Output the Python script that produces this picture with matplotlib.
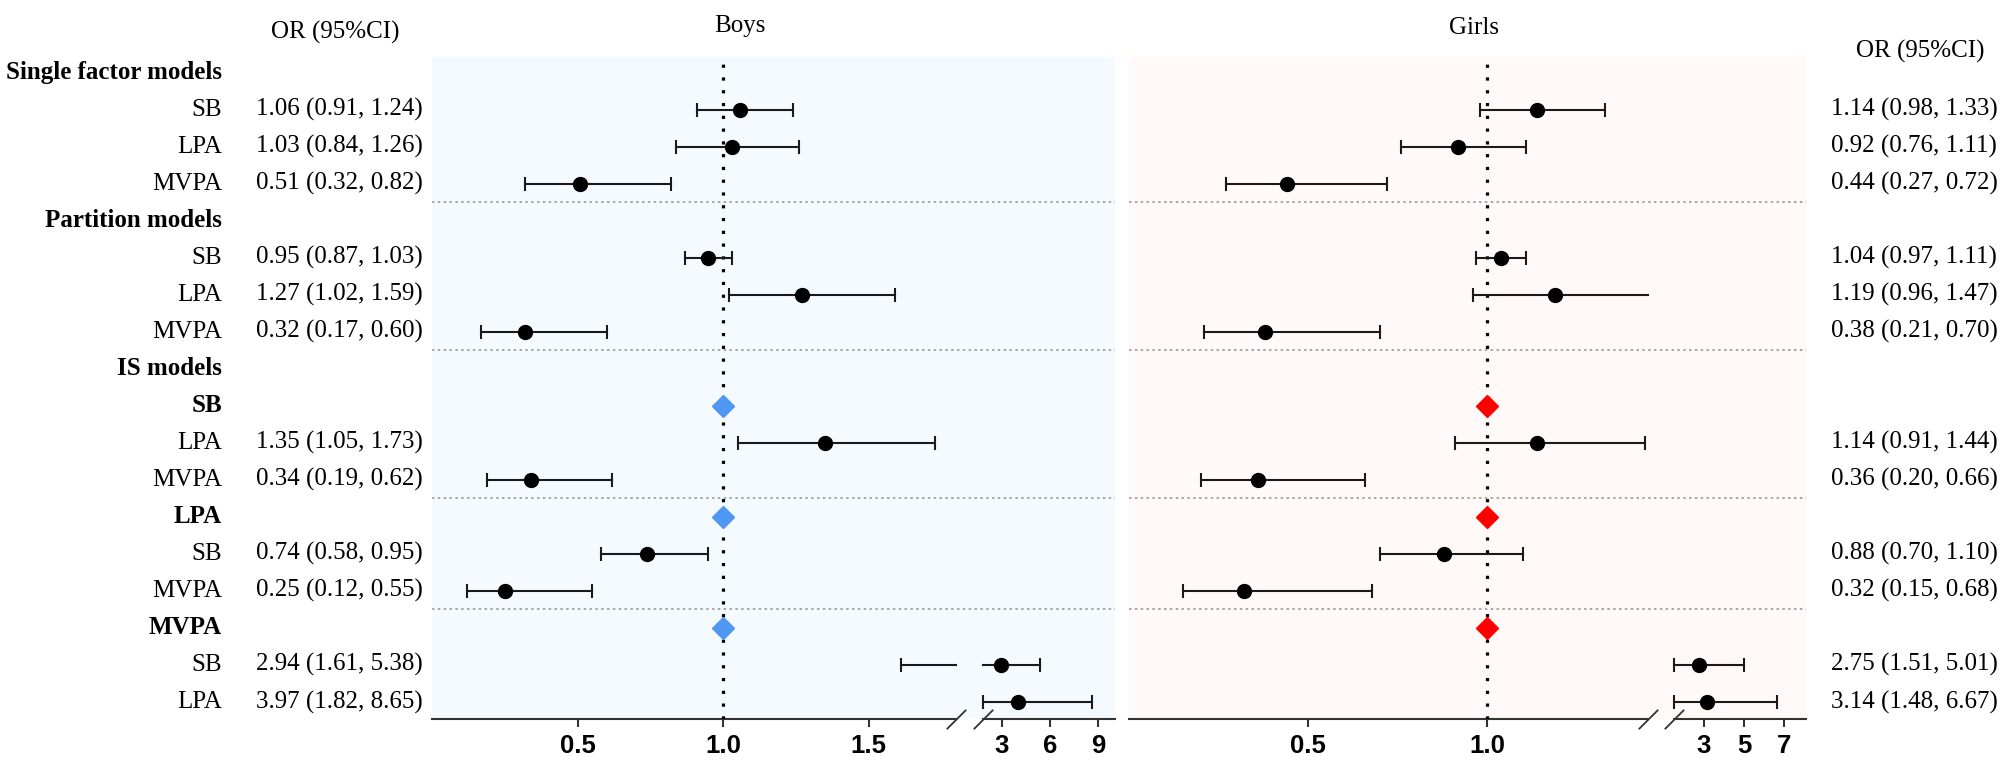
import numpy as np
import matplotlib
matplotlib.use("Agg")
import matplotlib.pyplot as plt
from matplotlib import transforms

W, H = 2007, 760
SERIF = "Liberation Serif"
SANS = "Liberation Sans"
FS = 18

# rows, top to bottom
labels = ["Single factor models", "SB", "LPA", "MVPA",
          "Partition models", "SB", "LPA", "MVPA",
          "IS models", "SB", "LPA", "MVPA",
          "LPA", "SB", "MVPA",
          "MVPA", "SB", "LPA"]
bold_rows = [0, 4, 8, 9, 12, 15]
ref_rows = [9, 12, 15]
est_rows = [1, 2, 3, 5, 6, 7, 10, 11, 13, 14, 16, 17]
sep_rows = [3.5, 7.5, 11.5, 14.5]

boys_or = [1.06, 1.03, 0.51, 0.95, 1.27, 0.32, 1.35, 0.34, 0.74, 0.25, 2.94, 3.97]
boys_lo = [0.91, 0.84, 0.32, 0.87, 1.02, 0.17, 1.05, 0.19, 0.58, 0.12, 1.61, 1.82]
boys_hi = [1.24, 1.26, 0.82, 1.03, 1.59, 0.60, 1.73, 0.62, 0.95, 0.55, 5.38, 8.65]

girls_or = [1.14, 0.92, 0.44, 1.04, 1.19, 0.38, 1.14, 0.36, 0.88, 0.32, 2.75, 3.14]
girls_lo = [0.98, 0.76, 0.27, 0.97, 0.96, 0.21, 0.91, 0.20, 0.70, 0.15, 1.51, 1.48]
girls_hi = [1.33, 1.11, 0.72, 1.11, 1.47, 0.70, 1.44, 0.66, 1.10, 0.68, 5.01, 6.67]

boys_ticks = [0.5, 1.0, 1.5, 3, 6, 9]
boys_ticklabels = ["0.5", "1.0", "1.5", "3", "6", "9"]
girls_ticks = [0.5, 1.0, 3, 5, 7]
girls_ticklabels = ["0.5", "1.0", "3", "5", "7"]


def broken(k_main, lo, hi, u_hi, k_right):
    # piecewise linear axis with a gap between lo and hi
    u_lo = lo * k_main

    def fwd(v):
        v = np.asarray(v, dtype=float)
        gap = u_lo + (v - lo) / (hi - lo) * (u_hi - u_lo)
        return np.where(v <= lo, v * k_main,
                        np.where(v >= hi, u_hi + (v - hi) * k_right, gap))

    def inv(u):
        u = np.asarray(u, dtype=float)
        gap = lo + (u - u_lo) / (u_hi - u_lo) * (hi - lo)
        return np.where(u <= u_lo, u / k_main,
                        np.where(u >= u_hi, hi + (u - u_hi) / k_right, gap))
    return fwd, inv


fig = plt.figure(figsize=(W / 100, H / 100), dpi=100)
top, bottom = 57, 719
ax_b = fig.add_axes([432 / W, 1 - bottom / H, 683 / W, (bottom - top) / H])
ax_g = fig.add_axes([1129 / W, 1 - bottom / H, 677 / W, (bottom - top) / H])

panels = [
    (ax_b, boys_or, boys_lo, boys_hi, boys_ticks, boys_ticklabels,
     (291, 1.80, 1.81, 551, 16), 10.06, "#f5faff", "#4f97f2"),
    (ax_g, girls_or, girls_lo, girls_hi, girls_ticks, girls_ticklabels,
     (358, 1.45, 1.48, 544.6, 20), 8.1, "#fffaf8", "#ff0000"),
]

for ax, ors, los, his, ticks, tlabels, sc, xmax, bg, dcol in panels:
    fwd, inv = broken(*sc)
    brk_lo, brk_hi = sc[1], sc[2]
    ax.set_xscale("function", functions=(fwd, inv))
    ax.set_xlim(0, xmax)
    ax.set_ylim(17.46, -0.42)
    ax.set_facecolor(bg)
    for s in ax.spines.values():
        s.set_visible(False)
    ax.set_yticks([])
    ax.set_xticks(ticks)
    ax.set_xticklabels(tlabels, fontfamily=SANS, fontweight="bold", fontsize=18.5)
    ax.tick_params(axis="x", length=5.5, width=1.5, pad=5.5, color="#333333")

    # axis line in two pieces with break marks
    trx = transforms.blended_transform_factory(ax.transData, ax.transAxes)
    parts = [(0, brk_lo), (brk_hi, xmax)]
    for a, b in parts:
        ax.plot([a, b], [0, 0], color="#333333", lw=1.5, transform=trx, clip_on=False)
    ax.plot([brk_lo, brk_hi], [0, 0], linestyle="none", marker=[(-1, -1), (1, 1)],
            markersize=14, mew=1.3, color="#333333", transform=trx, clip_on=False)

    ax.axvline(1.0, color="black", lw=2.3, linestyle=(0, (1, 3)), zorder=2)
    for y in sep_rows:
        ax.axhline(y, color="#9a9a9a", lw=1.2, linestyle=(0, (1.5, 2)), zorder=1)

    for y, o, l, h in zip(est_rows, ors, los, his):
        for a, b in parts:
            s, e = max(l, a), min(h, b)
            if s < e:
                ax.plot([s, e], [y, y], color="#1a1a1a", lw=1.5, zorder=3)
        caps = [c for c in (l, h) if any(a <= c <= b for a, b in parts)]
        ax.plot(caps, [y] * len(caps), linestyle="none", marker="|",
                markersize=10, mew=1.5, color="#1a1a1a", zorder=3)
        ax.plot(o, y, "o", color="black", markersize=10, zorder=4)

    ax.plot([1.0] * len(ref_rows), ref_rows, "D", color=dcol,
            markersize=11.5, linestyle="none", zorder=4)

# text columns
tr = transforms.blended_transform_factory(fig.transFigure, ax_b.transData)
for i, lab in enumerate(labels):
    fig.text(222 / W, i, lab, transform=tr, ha="right", va="center",
             fontfamily=SERIF, fontsize=FS,
             fontweight="bold" if i in bold_rows else "normal")

for y, o, l, h in zip(est_rows, boys_or, boys_lo, boys_hi):
    fig.text(256 / W, y, f"{o:.2f} ({l:.2f}, {h:.2f})", transform=tr,
             ha="left", va="center", fontfamily=SERIF, fontsize=FS)
for y, o, l, h in zip(est_rows, girls_or, girls_lo, girls_hi):
    fig.text(1831 / W, y, f"{o:.2f} ({l:.2f}, {h:.2f})", transform=tr,
             ha="left", va="center", fontfamily=SERIF, fontsize=FS)

fig.text(335 / W, 1 - 32 / H, "OR (95%CI)", ha="center", va="center",
         fontfamily=SERIF, fontsize=FS)
fig.text(1920 / W, 1 - 51 / H, "OR (95%CI)", ha="center", va="center",
         fontfamily=SERIF, fontsize=FS)
fig.text(740 / W, 1 - 26 / H, "Boys", ha="center", va="center",
         fontfamily=SERIF, fontsize=FS)
fig.text(1474 / W, 1 - 28 / H, "Girls", ha="center", va="center",
         fontfamily=SERIF, fontsize=FS)

fig.savefig("out.png", dpi=100, facecolor="white")
